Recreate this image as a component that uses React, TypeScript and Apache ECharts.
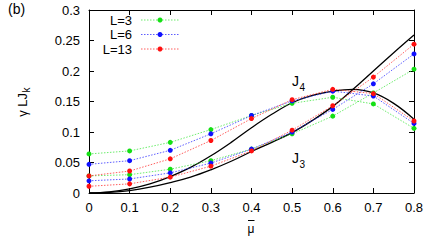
import React, { useEffect, useRef } from "react";
import * as echarts from "echarts";

// x values of the simulated points
const mu = [0, 0.1, 0.2, 0.3, 0.4, 0.5, 0.6, 0.7, 0.8];
// branch following J4
const l3J4 = [0.064, 0.069, 0.083, 0.104, 0.127, 0.147, 0.157, 0.146, 0.106];
const l6J4 = [0.047, 0.053, 0.070, 0.097, 0.127, 0.151, 0.167, 0.159, 0.114];
const l13J4 = [0.028, 0.036, 0.056, 0.086, 0.122, 0.153, 0.170, 0.163, 0.118];
// branch following J3
const l3J3 = [0.028, 0.030, 0.039, 0.053, 0.072, 0.097, 0.126, 0.164, 0.203];
const l6J3 = [0.020, 0.023, 0.033, 0.049, 0.072, 0.100, 0.137, 0.179, 0.228];
const l13J3 = [0.011, 0.015, 0.026, 0.044, 0.069, 0.103, 0.143, 0.190, 0.244];

// analytic curves
const muFine = [0, 0.05, 0.1, 0.15, 0.2, 0.25, 0.3, 0.35, 0.4, 0.45, 0.5, 0.55, 0.6, 0.65, 0.7, 0.75, 0.8];
const j4 = [0, 0.0017, 0.0068, 0.015, 0.027, 0.042, 0.061, 0.083, 0.107, 0.129, 0.148, 0.16, 0.167, 0.17, 0.164, 0.147, 0.121];
const j3 = [0, 0.001, 0.004, 0.0095, 0.017, 0.026, 0.038, 0.052, 0.068, 0.083, 0.099, 0.119, 0.142, 0.17, 0.2, 0.23, 0.259];

const legendNames = ["L=3", "L=6", "L=13"];
const xTicks = [0, 0.1, 0.2, 0.3, 0.4, 0.5, 0.6, 0.7, 0.8];
const yTicks = [0, 0.05, 0.1, 0.15, 0.2, 0.25, 0.3];

const COLORS = ["#14e014", "#1010ff", "#ff1010"];
const LINE_COLORS = ["rgba(60,230,60,0.75)", "rgba(40,40,255,0.75)", "rgba(255,40,40,0.75)"];
const FONT = "Liberation Sans, Arial, Helvetica, sans-serif";

const zip = (xs: number[], ys: number[]) => xs.map((x, i) => [x, ys[i]]);

export default function App() {
  const ref = useRef<HTMLDivElement>(null);
  useEffect(() => {
    if (!ref.current) return;
    const chart = echarts.init(ref.current, null, { renderer: "svg" });
    const pointSeries = (name: string, ys: number[], k: number) => ({
      name,
      type: "line",
      data: zip(mu, ys),
      symbol: "circle",
      symbolSize: 5,
      showSymbol: true,
      itemStyle: { color: COLORS[k] },
      lineStyle: { color: LINE_COLORS[k], width: 1, type: [1.5, 1.5] },
      z: 3 + k,
    });
    const curve = (name: string, ys: number[]) => ({
      name,
      type: "line",
      data: zip(muFine, ys),
      smooth: 0.4,
      showSymbol: false,
      symbol: "none",
      lineStyle: { color: "#000", width: 1.3 },
      z: 2,
    });
    const axisCommon = {
      axisLine: { show: true, onZero: false, lineStyle: { color: "#000", width: 1 } },
      axisTick: { show: true, inside: true, length: 5, lineStyle: { color: "#000" } },
      splitLine: { show: false },
    };
    const legendGraphics: any[] = [];
    legendNames.forEach((n, k) => {
      const y = 20 + k * 14.5;
      legendGraphics.push(
        { type: "text", x: 132, y, style: { text: n, fill: "#000", font: `13px ${FONT}`, textAlign: "right", textVerticalAlign: "middle" } },
        { type: "line", shape: { x1: 141, y1: y, x2: 179, y2: y }, style: { stroke: LINE_COLORS[k], lineWidth: 1, lineDash: [1.5, 1.5] } },
        { type: "circle", shape: { cx: 160, cy: y, r: 2.5 }, style: { fill: COLORS[k] } }
      );
    });
    chart.setOption({
      animation: false,
      grid: { left: 89, top: 10, width: 325, height: 183, containLabel: false },
      xAxis: [
        {
          type: "value", min: 0, max: 0.8, interval: 0.1, position: "bottom",
          ...axisCommon,
          axisLabel: { color: "#000", fontSize: 13, fontFamily: FONT, margin: 8, formatter: (v: number) => String(xTicks.find((t) => Math.abs(t - v) < 1e-9) ?? v) },
        },
        { type: "value", min: 0, max: 0.8, interval: 0.1, position: "top", ...axisCommon, axisLabel: { show: false } },
      ],
      yAxis: [
        {
          type: "value", min: 0, max: 0.3, interval: 0.05, position: "left",
          ...axisCommon,
          axisLabel: { color: "#000", fontSize: 13, fontFamily: FONT, margin: 9, formatter: (v: number) => String(yTicks.find((t) => Math.abs(t - v) < 1e-9) ?? v) },
        },
        { type: "value", min: 0, max: 0.3, interval: 0.05, position: "right", ...axisCommon, axisLabel: { show: false } },
      ],
      series: [
        curve("J4", j4),
        curve("J3", j3),
        pointSeries("L=3", l3J4, 0),
        pointSeries("L=3", l3J3, 0),
        pointSeries("L=6", l6J4, 1),
        pointSeries("L=6", l6J3, 1),
        pointSeries("L=13", l13J4, 2),
        pointSeries("L=13", l13J3, 2),
      ],
      graphic: [
        { type: "text", x: 8, y: 9, style: { text: "(b)", fill: "#000", font: `14px ${FONT}`, textAlign: "left", textVerticalAlign: "middle" } },
        { type: "text", x: 251, y: 229, style: { text: "μ", fill: "#000", font: `12px ${FONT}`, textAlign: "center", textVerticalAlign: "middle" } },
        { type: "line", shape: { x1: 248, y1: 220.5, x2: 254.5, y2: 220.5 }, style: { stroke: "#000", lineWidth: 1 } },
        {
          type: "group", x: 22, y: 93, rotation: Math.PI / 2,
          children: [
            { type: "text", x: 0, y: 0, style: { text: "γ LJ", fill: "#000", font: `13px ${FONT}`, textAlign: "right", textVerticalAlign: "middle" } },
            { type: "text", x: 0.5, y: 4, style: { text: "k", fill: "#000", font: `10px ${FONT}`, textAlign: "left", textVerticalAlign: "middle" } },
          ],
        },
        { type: "text", x: 292, y: 81, style: { text: "J", fill: "#000", font: `14px ${FONT}`, textAlign: "left", textVerticalAlign: "middle" } },
        { type: "text", x: 299.5, y: 87, style: { text: "4", fill: "#000", font: `10px ${FONT}`, textAlign: "left", textVerticalAlign: "middle" } },
        { type: "text", x: 292, y: 158, style: { text: "J", fill: "#000", font: `14px ${FONT}`, textAlign: "left", textVerticalAlign: "middle" } },
        { type: "text", x: 299.5, y: 164, style: { text: "3", fill: "#000", font: `10px ${FONT}`, textAlign: "left", textVerticalAlign: "middle" } },
        ...legendGraphics,
      ],
    });
    return () => chart.dispose();
  }, []);
  return <div ref={ref} style={{ width: 436, height: 242, position: "absolute", left: 0, top: 0 }} />;
}
